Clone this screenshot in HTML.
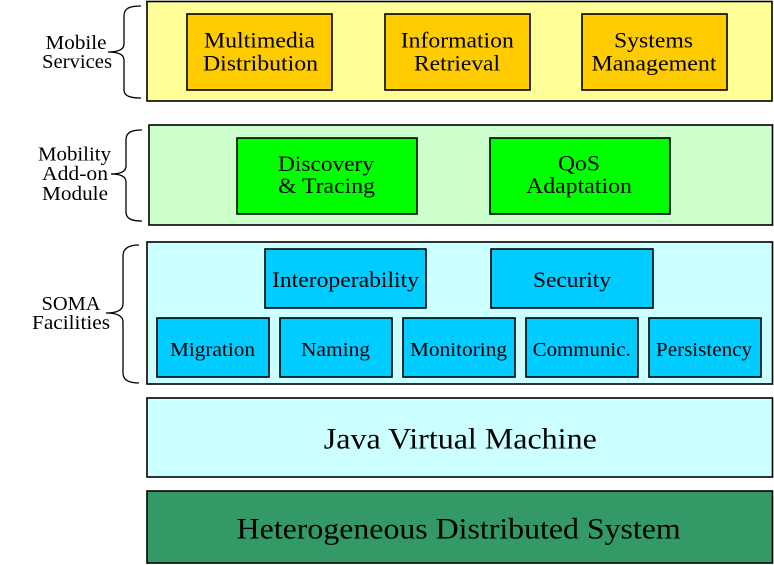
<!DOCTYPE html>
<html>
<head>
<meta charset="utf-8">
<style>
  html,body{margin:0;padding:0;background:#fff;font-family:"Liberation Serif","Times New Roman",Times,serif;}
  svg{display:block;font-family:"Liberation Serif","Times New Roman",Times,serif;}
  svg text{font-family:"Liberation Serif","Times New Roman",Times,serif;fill:#000;}
</style>
</head>
<body>
<svg width="774" height="565" viewBox="0 0 774 565" xmlns="http://www.w3.org/2000/svg" font-family="'Liberation Serif', 'Times New Roman', Times, serif">
  <g stroke="#000" stroke-width="1.6">
    <!-- Mobile Services band -->
    <rect x="147" y="1.5" width="625" height="99.5" fill="#FFFF99"/>
    <rect x="187" y="14" width="145" height="76" fill="#FFCC00"/>
    <rect x="385" y="14" width="145" height="76" fill="#FFCC00"/>
    <rect x="582" y="14" width="145" height="76" fill="#FFCC00"/>

    <!-- Mobility Add-on Module band -->
    <rect x="149" y="125" width="623.5" height="100" fill="#CCFFCC"/>
    <rect x="237" y="138" width="180" height="76" fill="#00FF00"/>
    <rect x="490" y="138" width="180" height="76" fill="#00FF00"/>

    <!-- SOMA Facilities band -->
    <rect x="147" y="242" width="625.5" height="142" fill="#CCFFFF"/>
    <rect x="265" y="249" width="161" height="59" fill="#00CCFF"/>
    <rect x="491" y="249" width="162" height="59" fill="#00CCFF"/>
    <rect x="157" y="318" width="112" height="59" fill="#00CCFF"/>
    <rect x="280" y="318" width="112" height="59" fill="#00CCFF"/>
    <rect x="403" y="318" width="112" height="59" fill="#00CCFF"/>
    <rect x="526" y="318" width="112" height="59" fill="#00CCFF"/>
    <rect x="649" y="318" width="112" height="59" fill="#00CCFF"/>

    <!-- JVM -->
    <rect x="147" y="398" width="625.5" height="79" fill="#CCFFFF"/>
    <!-- HDS -->
    <rect x="147" y="491" width="625.5" height="72" fill="#339966"/>
  </g>

  <!-- Braces -->
  <g fill="none" stroke="#000" stroke-width="1.3">
    <path d="M141,6 C130,6 124,8 124,16 L124,44 C124,50 118,52 108,52 C118,52 124,54 124,60 L124,90 C124,96 130,98 141,98"/>
    <path d="M142,130 C132,130 126,132 126,140 L126,166 C126,172 120,174 111,174 C120,174 126,176 126,182 L126,212 C126,219 132,221 142,221"/>
    <path d="M139,245 C129,245 123,248 123,256 L123,304 C123,310 117,313 106,313 C117,313 123,316 123,322 L123,373 C123,380 129,383 139,383"/>
  </g>

  <!-- Side labels -->
  <g font-size="20" text-anchor="middle">
    <text x="76" y="49" textLength="61" lengthAdjust="spacingAndGlyphs">Mobile</text>
    <text x="77" y="68" textLength="70" lengthAdjust="spacingAndGlyphs">Services</text>
    <text x="74.5" y="160.5" textLength="73" lengthAdjust="spacingAndGlyphs">Mobility</text>
    <text x="75" y="180" textLength="66" lengthAdjust="spacingAndGlyphs">Add-on</text>
    <text x="75" y="200" textLength="66" lengthAdjust="spacingAndGlyphs">Module</text>
    <text x="71" y="310" textLength="59" lengthAdjust="spacingAndGlyphs">SOMA</text>
    <text x="71" y="329" textLength="78" lengthAdjust="spacingAndGlyphs">Facilities</text>
  </g>

  <!-- Box labels -->
  <g font-size="22" text-anchor="middle">
    <text x="259.5" y="47.7" textLength="111" lengthAdjust="spacingAndGlyphs">Multimedia</text>
    <text x="260.5" y="70.7" textLength="115" lengthAdjust="spacingAndGlyphs">Distribution</text>
    <text x="457.3" y="47.7" textLength="113" lengthAdjust="spacingAndGlyphs">Information</text>
    <text x="457" y="70.7" textLength="86" lengthAdjust="spacingAndGlyphs">Retrieval</text>
    <text x="653.5" y="47.7" textLength="79" lengthAdjust="spacingAndGlyphs">Systems</text>
    <text x="654" y="70.7" textLength="125" lengthAdjust="spacingAndGlyphs">Management</text>

    <text x="326" y="171" textLength="96" lengthAdjust="spacingAndGlyphs">Discovery</text>
    <text x="326.5" y="193" textLength="97" lengthAdjust="spacingAndGlyphs">&amp; Tracing</text>
    <text x="579" y="170.5" textLength="42" lengthAdjust="spacingAndGlyphs">QoS</text>
    <text x="579" y="193" textLength="106" lengthAdjust="spacingAndGlyphs">Adaptation</text>

    <text x="345.5" y="287" textLength="147" lengthAdjust="spacingAndGlyphs">Interoperability</text>
    <text x="572" y="287" textLength="78" lengthAdjust="spacingAndGlyphs">Security</text>
  </g>
  <g font-size="20" text-anchor="middle">
    <text x="212.5" y="356" textLength="85" lengthAdjust="spacingAndGlyphs">Migration</text>
    <text x="335.5" y="356" textLength="69" lengthAdjust="spacingAndGlyphs">Naming</text>
    <text x="458.5" y="356" textLength="97" lengthAdjust="spacingAndGlyphs">Monitoring</text>
    <text x="581.7" y="356" textLength="98" lengthAdjust="spacingAndGlyphs">Communic.</text>
    <text x="704" y="356" textLength="96" lengthAdjust="spacingAndGlyphs">Persistency</text>
  </g>

  <g font-size="30" text-anchor="middle">
    <text x="460.3" y="448.3" textLength="273" lengthAdjust="spacingAndGlyphs">Java Virtual Machine</text>
    <text x="458.7" y="538.3" textLength="444" lengthAdjust="spacingAndGlyphs">Heterogeneous Distributed System</text>
  </g>
</svg>
</body>
</html>
